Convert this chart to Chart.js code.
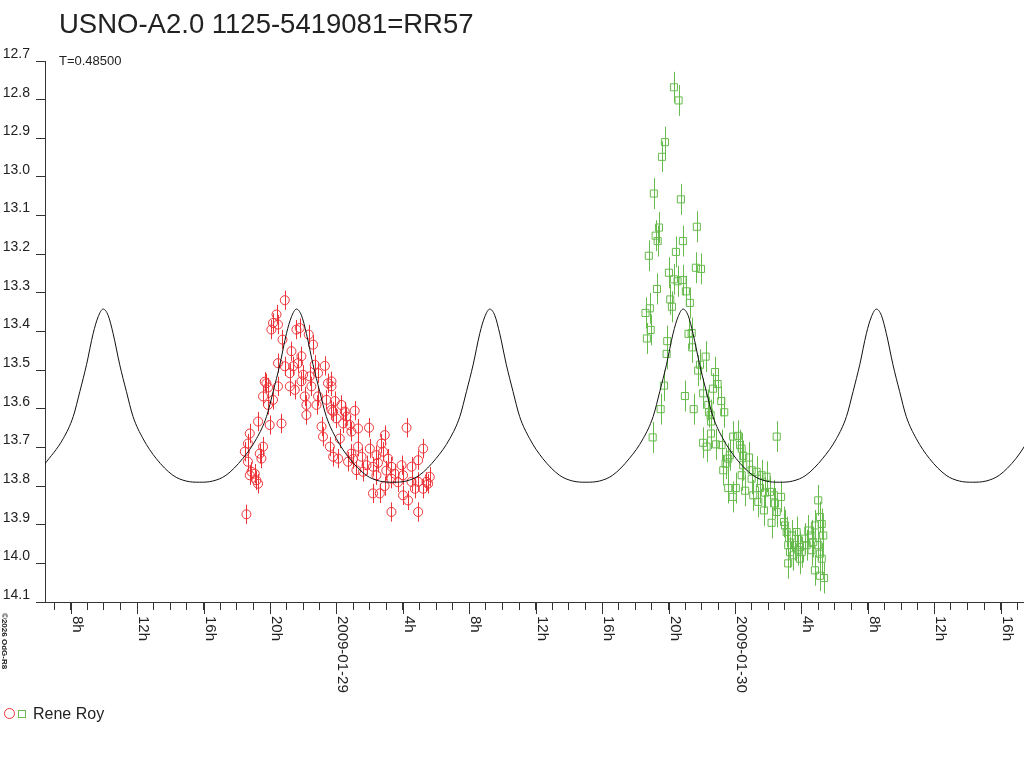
<!DOCTYPE html>
<html>
<head>
<meta charset="utf-8">
<title>USNO-A2.0 1125-5419081=RR57</title>
<script src="https://cdn.jsdelivr.net/npm/chart.js@4.4.1/dist/chart.umd.min.js"></script>
<style>
  html, body { margin: 0; padding: 0; background: #fff; }
  canvas { display: block; }
</style>
</head>
<body>
<canvas id="myChart" width="1024" height="768"></canvas>
<script>
// hours since 2009-01-29 00:00 UT, magnitudes
const redTime = [-3.11, -3.82, -3.61, -3.92, -3.52, -3.25, -2.41, -2.21, -1.67, -1.41,
  -2.71, -2.11, -3.52, -3.11, -2.61, -2.81, -2.31, -1.31, -0.70, -2.01,
  -1.61, -1.11, -4.22, -4.32, -4.12, -3.52, -2.81, -2.11, -1.51, -0.51,
  -4.42, -3.82, -2.51, -1.91, -1.11, -0.30, -4.12, -1.81, -1.20, -0.60,
  -0.30, -1.81, -4.72, -4.02, -3.31, -0.90, -5.22, -0.81, -5.33, -4.42,
  -5.52, -4.62, -4.52, -0.40, -5.33, -5.12, -4.92, -5.22, -4.82, -4.72,
  -5.42, -0.20, -0.30, -0.20, 0.00, 0.50, 1.10, 0.40, 0.80, 0.90,
  1.30, 1.96, 4.22, 2.91, 2.71, 0.20, 1.30, 2.01, 0.90, 0.10,
  0.70, 1.51, 1.81, 2.41, 2.81, 3.11, 1.20, 1.60, 2.20, 2.41,
  3.31, 3.51, 3.92, 4.52, 4.92, 5.22, 3.31, 4.01, 4.52, 4.92,
  5.42, 5.22, 2.20, 2.61, 4.01, 4.31, 3.31, 4.92, 5.52, 4.72,
  5.62, 0.30, 0.60, -0.10, 1.00, 2.50, 3.00, 3.70, 2.90];
const redMag = [13.319, 13.378, 13.356, 13.395, 13.382, 13.421, 13.395, 13.391, 13.408, 13.434,
  13.451, 13.464, 13.482, 13.490, 13.490, 13.508, 13.482, 13.486, 13.489, 13.512,
  13.516, 13.508, 13.534, 13.530, 13.545, 13.542, 13.542, 13.529, 13.542, 13.534,
  13.568, 13.577, 13.551, 13.568, 13.568, 13.542, 13.590, 13.590, 13.590, 13.577,
  13.603, 13.616, 13.633, 13.642, 13.638, 13.646, 13.664, 13.672, 13.690, 13.698,
  13.711, 13.716, 13.729, 13.698, 13.737, 13.763, 13.768, 13.772, 13.785, 13.794,
  13.873, 13.724, 13.529, 13.607, 13.625, 13.607, 13.605, 13.638, 13.642, 13.659,
  13.651, 13.649, 13.649, 13.668, 13.690, 13.677, 13.698, 13.703, 13.716, 13.729,
  13.737, 13.724, 13.746, 13.720, 13.711, 13.729, 13.759, 13.763, 13.750, 13.772,
  13.750, 13.768, 13.746, 13.750, 13.733, 13.703, 13.781, 13.772, 13.789, 13.789,
  13.789, 13.807, 13.819, 13.819, 13.824, 13.837, 13.867, 13.867, 13.794, 13.807,
  13.776, 13.590, 13.620, 13.580, 13.730, 13.740, 13.760, 13.790, 13.800];

const greenTime = [20.32, 20.60, 19.78, 19.60, 19.11, 20.74, 19.42, 19.22, 19.34, 21.70,
  20.86, 18.81, 20.44, 20.02, 21.64, 21.95, 20.32, 20.54, 20.84, 19.30,
  21.04, 20.10, 21.28, 20.20, 18.87, 18.61, 18.92, 18.69, 21.20, 21.39,
  19.92, 21.42, 19.88, 22.23, 21.89, 21.78, 22.79, 19.72, 22.67, 20.98,
  22.08, 19.52, 21.51, 22.43, 22.55, 19.04, 22.55, 22.08, 22.29, 22.95,
  23.17, 22.39, 23.35, 22.53, 22.85, 23.19, 23.89, 24.19, 24.30, 26.51,
  23.69, 23.59, 24.40, 24.49, 24.84, 23.43, 23.29, 24.49, 24.40, 25.00,
  25.30, 25.60, 25.90, 25.00, 23.59, 24.05, 23.86, 24.61, 25.10, 25.50,
  25.80, 26.10, 26.34, 26.77, 25.40, 25.74, 26.51, 26.40, 26.20, 26.95,
  27.01, 27.11, 27.41, 27.71, 27.20, 27.61, 27.91, 28.21, 28.41, 28.61,
  28.81, 29.01, 29.11, 29.22, 29.31, 27.31, 27.91, 27.51, 28.01, 28.61,
  27.20, 28.81, 29.11, 29.22, 29.11, 29.36, 28.31, 28.71, 29.01, 27.81];
const greenMag = [12.768, 12.802, 12.910, 12.948, 13.043, 13.058, 13.131, 13.152, 13.166, 13.129,
  13.166, 13.204, 13.194, 13.248, 13.235, 13.238, 13.265, 13.270, 13.267, 13.290,
  13.296, 13.317, 13.326, 13.336, 13.340, 13.352, 13.396, 13.418, 13.406, 13.404,
  13.425, 13.441, 13.458, 13.465, 13.486, 13.501, 13.505, 13.540, 13.548, 13.567,
  13.560, 13.601, 13.601, 13.609, 13.633, 13.674, 13.664, 13.688, 13.698, 13.536,
  13.580, 13.590, 13.609, 13.616, 13.692, 13.694, 13.672, 13.670, 13.694, 13.672,
  13.720, 13.729, 13.703, 13.722, 13.726, 13.742, 13.759, 13.746, 13.772, 13.759,
  13.763, 13.772, 13.776, 13.781, 13.805, 13.805, 13.828, 13.812, 13.824, 13.805,
  13.817, 13.815, 13.824, 13.828, 13.841, 13.863, 13.867, 13.845, 13.895, 13.893,
  13.902, 13.919, 13.928, 13.919, 13.953, 13.953, 13.958, 13.936, 13.915, 13.928,
  13.902, 13.837, 13.880, 13.898, 13.928, 13.971, 13.988, 13.979, 13.971, 13.966,
  14.000, 14.018, 13.975, 13.988, 14.032, 14.038, 13.953, 13.945, 13.953, 13.966];

// light-curve model, P = 0.485 d
const curveTime = [-17.60, -16.45, -15.85, -15.45, -15.05, -14.65, -14.35, -14.05, -13.75, -13.45,
  -13.05, -12.65, -12.25, -11.65, -10.85, -9.85, -9.05, -8.25, -7.45, -6.65, -5.65,
  -4.81, -4.21, -3.81, -3.41, -3.01, -2.71, -2.41, -2.11, -1.81,
  -1.41, -1.01, -0.61, -0.01, 0.79, 1.79, 2.59, 3.39, 4.19, 4.99, 5.99,
  6.83, 7.43, 7.83, 8.23, 8.63, 8.93, 9.23, 9.53, 9.83,
  10.23, 10.63, 11.03, 11.63, 12.43, 13.43, 14.23, 15.03, 15.83, 16.63, 17.63,
  18.47, 19.07, 19.47, 19.87, 20.27, 20.57, 20.87, 21.17, 21.47,
  21.87, 22.27, 22.67, 23.27, 24.07, 25.07, 25.87, 26.67, 27.47, 28.27, 29.27,
  30.11, 30.71, 31.11, 31.51, 31.91, 32.21, 32.51, 32.81, 33.11,
  33.51, 33.91, 34.31, 34.91, 35.71, 36.71, 37.51, 38.31, 39.11, 39.91, 40.91, 41.91];
const curveMag = [13.745, 13.677, 13.620, 13.555, 13.486, 13.405, 13.362, 13.342, 13.358, 13.405,
  13.486, 13.555, 13.620, 13.677, 13.729, 13.772, 13.787, 13.790, 13.787, 13.772, 13.729,
  13.677, 13.620, 13.555, 13.486, 13.405, 13.362, 13.342, 13.358, 13.405,
  13.486, 13.555, 13.620, 13.677, 13.729, 13.772, 13.787, 13.790, 13.787, 13.772, 13.729,
  13.677, 13.620, 13.555, 13.486, 13.405, 13.362, 13.342, 13.358, 13.405,
  13.486, 13.555, 13.620, 13.677, 13.729, 13.772, 13.787, 13.790, 13.787, 13.772, 13.729,
  13.677, 13.620, 13.555, 13.486, 13.405, 13.362, 13.342, 13.358, 13.405,
  13.486, 13.555, 13.620, 13.677, 13.729, 13.772, 13.787, 13.790, 13.787, 13.772, 13.729,
  13.677, 13.620, 13.555, 13.486, 13.405, 13.362, 13.342, 13.358, 13.405,
  13.486, 13.555, 13.620, 13.677, 13.729, 13.772, 13.787, 13.790, 13.787, 13.772, 13.729, 13.665];

const tickHours = [-16, -12, -8, -4, 0, 4, 8, 12, 16, 20, 24, 28, 32, 36, 40];
const tickLabels = ['8h', '12h', '16h', '20h', '2009-01-29', '4h', '8h', '12h', '16h', '20h',
  '2009-01-30', '4h', '8h', '12h', '16h'];

const FONT = "'Liberation Sans', Arial, sans-serif";
const ROJO = '#ee3338';
const VERDE = '#66bb4c';
const TINTA = '#222';

const toPoints = (xs, ys) => xs.map((x, i) => ({ x: x, y: ys[i] }));

const barrasError = {
  id: 'barrasError',
  beforeDatasetsDraw(chart) {
    const { ctx, scales: { x, y } } = chart;
    chart.data.datasets.forEach(ds => {
      if (!ds.err) return;
      ctx.save();
      ctx.strokeStyle = ds.borderColor;
      ctx.lineWidth = 1;
      ctx.beginPath();
      ds.data.forEach(p => {
        const px = Math.round(x.getPixelForValue(p.x)) + 0.5;
        ctx.moveTo(px, y.getPixelForValue(p.y - ds.err));
        ctx.lineTo(px, y.getPixelForValue(p.y + ds.err));
      });
      ctx.stroke();
      ctx.restore();
    });
  }
};

const textos = {
  id: 'textos',
  afterDraw(chart) {
    const { ctx, scales: { x } } = chart;
    const base = chart.chartArea.bottom;
    ctx.save();
    ctx.fillStyle = TINTA;
    ctx.strokeStyle = '#333';
    ctx.lineWidth = 1;

    // titulo y subtitulo
    ctx.textAlign = 'left';
    ctx.textBaseline = 'alphabetic';
    ctx.font = '27.5px ' + FONT;
    ctx.fillText('USNO-A2.0 1125-5419081=RR57', 59, 33);
    ctx.font = '13px ' + FONT;
    ctx.fillText('T=0.48500', 59, 65);

    // marcas mayores y etiquetas giradas del eje x
    ctx.font = '15px ' + FONT;
    tickHours.forEach((h, i) => {
      const px = Math.round(x.getPixelForValue(h)) + 0.5;
      ctx.beginPath();
      ctx.moveTo(px, base);
      ctx.lineTo(px, base + 12);
      ctx.stroke();
      ctx.save();
      ctx.translate(px + 1, base + 14);
      ctx.rotate(Math.PI / 2);
      ctx.fillText(tickLabels[i], 0, 0);
      ctx.restore();
    });

    // copyright vertical
    ctx.save();
    ctx.font = 'bold 8px ' + FONT;
    ctx.translate(2, 613);
    ctx.rotate(Math.PI / 2);
    ctx.fillText('\u00a92026 OdG-R8', 0, 0);
    ctx.restore();

    // leyenda
    ctx.strokeStyle = ROJO;
    ctx.beginPath();
    ctx.arc(9.5, 713.5, 5, 0, Math.PI * 2);
    ctx.stroke();
    ctx.strokeStyle = VERDE;
    ctx.strokeRect(18.5, 710.5, 7, 7);
    ctx.font = '16px ' + FONT;
    ctx.fillText('Rene Roy', 33, 719);
    ctx.restore();
  }
};

new Chart(document.getElementById('myChart').getContext('2d'), {
  type: 'scatter',
  data: {
    datasets: [
      {
        label: 'modelo',
        data: toPoints(curveTime, curveMag),
        showLine: true,
        pointRadius: 0,
        borderColor: '#111',
        borderWidth: 1,
        cubicInterpolationMode: 'monotone',
        fill: false
      },
      {
        label: 'Rene Roy',
        data: toPoints(redTime, redMag),
        pointStyle: 'circle',
        pointRadius: 4.5,
        borderColor: ROJO,
        backgroundColor: 'rgba(0,0,0,0)',
        borderWidth: 1,
        err: 0.025
      },
      {
        label: 'Rene Roy',
        data: toPoints(greenTime, greenMag),
        pointStyle: 'rect',
        pointRadius: 5,
        borderColor: VERDE,
        backgroundColor: 'rgba(0,0,0,0)',
        borderWidth: 1,
        err: 0.04
      }
    ]
  },
  options: {
    responsive: false,
    animation: false,
    layout: { autoPadding: false, padding: { top: 61, left: 0, right: 0, bottom: 0 } },
    plugins: {
      legend: { display: false },
      tooltip: { enabled: false },
      title: { display: false }
    },
    scales: {
      x: {
        type: 'linear',
        min: -17.55,
        max: 41.4,
        afterFit: s => { s.height = 166; },
        border: { color: '#333' },
        grid: { drawOnChartArea: false, tickLength: 8, color: '#333' },
        ticks: { display: false, stepSize: 1, includeBounds: false }
      },
      y: {
        reverse: true,
        min: 12.7,
        max: 14.1,
        afterFit: s => { s.width = 45; },
        border: { color: '#333' },
        grid: { drawOnChartArea: false, tickLength: 9, color: '#333' },
        ticks: {
          stepSize: 0.1,
          padding: 6,
          labelOffset: -7,
          color: TINTA,
          font: { family: FONT, size: 14 },
          callback: v => v.toFixed(1)
        }
      }
    }
  },
  plugins: [barrasError, textos]
});
</script>
</body>
</html>
